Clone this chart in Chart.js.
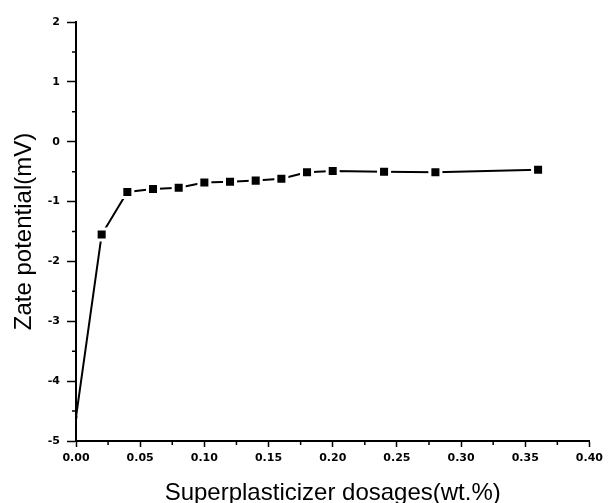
<!DOCTYPE html>
<html>
<head>
<meta charset="utf-8">
<script src="https://cdn.jsdelivr.net/npm/chart.js@4"></script>
<style>
  html, body { margin: 0; padding: 0; background: #fff; }
  #wrap { width: 608px; height: 503px; }
</style>
</head>
<body>
<div id="wrap"><canvas id="zetaChart"></canvas></div>
<script>
// values
const dosages = [0, 0.02, 0.04, 0.06, 0.08, 0.10, 0.12, 0.14, 0.16, 0.18, 0.20, 0.24, 0.28, 0.36];
const zeta = [-4.6, -1.55, -0.84, -0.79, -0.77, -0.68, -0.67, -0.65, -0.62, -0.51, -0.49, -0.50, -0.51, -0.47];
const xMinorTicks = [0.025, 0.075, 0.125, 0.175, 0.225, 0.275, 0.325, 0.375];
const yMinorTicks = [-4.5, -3.5, -2.5, -1.5, -0.5, 0.5, 1.5];

const tickFont = { family: 'DejaVu Sans', size: 11, weight: 'bold' };
const titleFont = { family: 'Liberation Sans', size: 24, weight: 'normal' };

// short ticks between the labelled ones
const minorTicks = {
    id: 'minorTicks',
    afterDraw(chart) {
        const ctx = chart.ctx;
        const x = chart.scales.x, y = chart.scales.y;
        ctx.save();
        ctx.strokeStyle = '#000';
        ctx.lineWidth = 1.5;
        ctx.beginPath();
        xMinorTicks.forEach(v => {
            const px = x.getPixelForValue(v);
            ctx.moveTo(px, x.top);
            ctx.lineTo(px, x.top + 4);
        });
        yMinorTicks.forEach(v => {
            const py = y.getPixelForValue(v);
            ctx.moveTo(y.right, py);
            ctx.lineTo(y.right - 4, py);
        });
        ctx.stroke();
        ctx.restore();
    }
};

const ctx = document.getElementById('zetaChart').getContext('2d');
new Chart(ctx, {
    type: 'scatter',
    data: {
        datasets: [{
            data: dosages.map((d, i) => ({ x: d, y: zeta[i] })),
            showLine: true,
            borderColor: '#000',
            borderWidth: 2,
            pointStyle: 'rect',
            pointRadius: dosages.map((d, i) => i === 0 ? 2 : 7.8),
            pointBackgroundColor: '#000',
            pointBorderColor: dosages.map((d, i) => i === 0 ? '#000' : '#fff'),
            pointBorderWidth: dosages.map((d, i) => i === 0 ? 0 : 3),
            pointHoverRadius: 7.8,
            tension: 0
        }]
    },
    options: {
        responsive: true,
        maintainAspectRatio: false,
        animation: false,
        events: [],
        layout: { padding: { left: 0, top: 22, right: 14, bottom: 0 } },
        plugins: {
            legend: { display: false },
            tooltip: { enabled: false }
        },
        scales: {
            x: {
                type: 'linear',
                min: 0,
                max: 0.4,
                afterFit(scale) { scale.height = 62; },
                border: { display: true, color: '#000', width: 2 },
                grid: { drawOnChartArea: false, tickLength: 6, tickColor: '#000', tickWidth: 1.5 },
                ticks: {
                    stepSize: 0.05,
                    color: '#000',
                    font: tickFont,
                    padding: 5,
                    maxRotation: 0,
                    callback: v => v.toFixed(2)
                },
                title: {
                    display: true,
                    text: 'Superplasticizer dosages(wt.%)',
                    color: '#000',
                    font: { ...titleFont, lineHeight: 0.8 },
                    padding: { top: 0, bottom: 0 }
                }
            },
            y: {
                type: 'linear',
                min: -5,
                max: 2,
                afterFit(scale) { scale.width = 76; },
                border: { display: true, color: '#000', width: 2 },
                grid: { drawOnChartArea: false, tickLength: 9, tickColor: '#000', tickWidth: 1.5 },
                ticks: {
                    stepSize: 1,
                    color: '#000',
                    font: tickFont,
                    padding: 7
                },
                title: {
                    display: true,
                    text: 'Zate potential(mV)',
                    color: '#000',
                    font: { ...titleFont, lineHeight: 1.2 },
                    padding: { top: 10, bottom: 0 }
                }
            }
        }
    },
    plugins: [minorTicks]
});
</script>
</body>
</html>
